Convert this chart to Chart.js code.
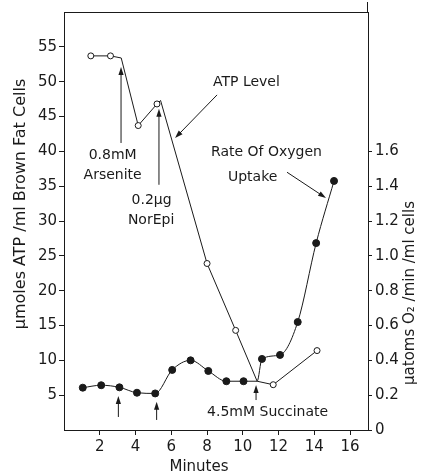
<!DOCTYPE html>
<html>
<head>
<meta charset="utf-8">
<script src="https://cdn.jsdelivr.net/npm/chart.js@4.4.1/dist/chart.umd.min.js"></script>
<style>
html, body { margin: 0; padding: 0; background: #fff; }
canvas { display: block; }
</style>
</head>
<body>
<canvas id="chart" width="421" height="475"></canvas>
<script>
// ATP level (open circles, left axis, umoles/ml)
const minutesATP = [1.5, 2.6, 3.2, 4.15, 5.2, 5.4, 8.0, 9.6, 10.8, 11.7, 14.15];
const atpLevel   = [53.7, 53.7, 53.4, 43.7, 46.8, 47.3, 23.9, 14.3, 7.0, 6.5, 11.4];
const atpMarked  = [true, true, false, true, true, false, true, true, false, true, true];

// oxygen uptake (filled circles, right axis, uatoms O2/min/ml)
const minutesO2 = [1.05, 2.08, 3.1, 4.08, 5.1, 6.05, 7.08, 8.07, 9.08, 10.04, 10.8, 11.07, 12.08, 13.07, 14.1, 15.1];
const o2Uptake  = [0.243, 0.257, 0.245, 0.214, 0.21, 0.345, 0.40, 0.339, 0.28, 0.28, 0.28, 0.408, 0.431, 0.62, 1.073, 1.43];
const o2Marked  = [true, true, true, true, true, true, true, true, true, true, false, true, true, true, true, true];

const xTicks = [2, 4, 6, 8, 10, 12, 14, 16];
const leftTicks = [5, 10, 15, 20, 25, 30, 35, 40, 45, 50, 55];
const rightTicks = [0, 0.2, 0.4, 0.6, 0.8, 1.0, 1.2, 1.4, 1.6];

// annotations, in minutes / left-axis units
const noteTexts = [
  { text: '0.8mM', x: 2.72, y: 39.4, align: 'center' },
  { text: 'Arsenite', x: 2.72, y: 36.5, align: 'center' },
  { text: '0.2\u03bcg', x: 4.9, y: 33.0, align: 'center' },
  { text: 'NorEpi', x: 4.87, y: 30.1, align: 'center' },
  { text: 'ATP Level', x: 8.33, y: 49.9, align: 'left' },
  { text: 'Rate Of Oxygen', x: 8.22, y: 39.8, align: 'left' },
  { text: 'Uptake', x: 9.17, y: 36.3, align: 'left' },
  { text: '4.5mM Succinate', x: 8.0, y: 2.6, align: 'left' }
];
const noteArrows = [
  { from: [3.19, 41.2], to: [3.19, 52.1] },
  { from: [5.31, 35.2], to: [5.31, 46.1] },
  { from: [8.56, 48.1], to: [6.21, 41.9] },
  { from: [12.47, 37.0], to: [14.65, 33.3] },
  { from: [10.74, 4.3], to: [10.74, 6.46] },
  { from: [3.04, 1.87], to: [3.04, 4.88] },
  { from: [5.18, 1.44], to: [5.18, 4.06] }
];

const ink = '#1a1a1a';
const fontFam = '"DejaVu Sans", sans-serif';

function drawArrow(ctx, x1, y1, x2, y2) {
  const ang = Math.atan2(y2 - y1, x2 - x1);
  const len = 8, half = 2.6;
  ctx.beginPath();
  ctx.moveTo(x1, y1);
  ctx.lineTo(x2 - Math.cos(ang) * len * 0.7, y2 - Math.sin(ang) * len * 0.7);
  ctx.stroke();
  ctx.beginPath();
  ctx.moveTo(x2, y2);
  ctx.lineTo(x2 - len * Math.cos(ang) + half * Math.sin(ang), y2 - len * Math.sin(ang) - half * Math.cos(ang));
  ctx.lineTo(x2 - len * Math.cos(ang) - half * Math.sin(ang), y2 - len * Math.sin(ang) + half * Math.cos(ang));
  ctx.closePath();
  ctx.fill();
}

const notesPlugin = {
  id: 'notes',
  afterDraw(chart) {
    const ctx = chart.ctx;
    const sx = chart.scales.x, sy = chart.scales.y;
    const a = chart.chartArea;
    ctx.save();
    ctx.strokeStyle = ink;
    ctx.fillStyle = ink;
    ctx.lineWidth = 1;

    // top of frame, right axis runs up past it
    ctx.beginPath();
    ctx.moveTo(a.left, a.top + 0.5);
    ctx.lineTo(a.right, a.top + 0.5);
    ctx.moveTo(a.right - 0.5, a.top);
    ctx.lineTo(a.right - 0.5, 2);
    ctx.stroke();

    noteArrows.forEach(n => {
      drawArrow(ctx, sx.getPixelForValue(n.from[0]), sy.getPixelForValue(n.from[1]),
                     sx.getPixelForValue(n.to[0]), sy.getPixelForValue(n.to[1]));
    });

    ctx.font = '14px ' + fontFam;
    ctx.textBaseline = 'middle';
    noteTexts.forEach(n => {
      ctx.textAlign = n.align;
      ctx.fillText(n.text, sx.getPixelForValue(n.x), sy.getPixelForValue(n.y));
    });

    // axis titles
    ctx.font = '16px ' + fontFam;
    ctx.textAlign = 'center';
    ctx.save();
    ctx.translate(21, 204);
    ctx.rotate(-Math.PI / 2);
    ctx.fillText('\u03bcmoles ATP /ml Brown Fat Cells', 0, 0);
    ctx.restore();

    ctx.font = '15px ' + fontFam;
    ctx.save();
    ctx.translate(410, 293);
    ctx.rotate(-Math.PI / 2);
    ctx.fillText('\u03bcatoms O\u2082 /min /ml cells', 0, 0);
    ctx.restore();

    ctx.fillText('Minutes', 199, 467);
    ctx.restore();
  }
};

const tickFont = { family: fontFam, size: 15 };
const axisGrid = { display: true, drawOnChartArea: false, drawTicks: true, tickLength: 5, color: ink };
const axisBorder = { display: true, color: ink, width: 1 };

new Chart(document.getElementById('chart'), {
  type: 'line',
  data: {
    datasets: [
      {
        label: 'ATP Level',
        data: minutesATP.map((m, i) => ({ x: m, y: atpLevel[i] })),
        yAxisID: 'y',
        borderColor: ink,
        borderWidth: 1,
        tension: 0,
        pointRadius: ctx => atpMarked[ctx.dataIndex] ? 3 : 0,
        pointBackgroundColor: '#fff',
        pointBorderColor: ink,
        pointBorderWidth: 1
      },
      {
        label: 'Rate Of Oxygen Uptake',
        data: minutesO2.map((m, i) => ({ x: m, y: o2Uptake[i] })),
        yAxisID: 'y2',
        borderColor: ink,
        borderWidth: 1,
        cubicInterpolationMode: 'monotone',
        pointRadius: ctx => o2Marked[ctx.dataIndex] ? 3.5 : 0,
        pointBackgroundColor: ink,
        pointBorderColor: ink,
        pointBorderWidth: 1
      }
    ]
  },
  options: {
    responsive: false,
    animation: false,
    devicePixelRatio: 1,
    layout: { padding: { top: 12, left: 0, right: 0, bottom: 0 } },
    plugins: { legend: { display: false }, tooltip: { enabled: false } },
    scales: {
      x: {
        type: 'linear',
        min: 0,
        max: 17,
        afterBuildTicks: s => { s.ticks = xTicks.map(v => ({ value: v })); },
        afterFit: s => { s.height = 45; },
        ticks: { font: tickFont, color: ink, padding: 3 },
        grid: axisGrid,
        border: axisBorder
      },
      y: {
        position: 'left',
        min: 0,
        max: 60,
        afterBuildTicks: s => { s.ticks = leftTicks.map(v => ({ value: v })); },
        afterFit: s => { s.width = 64; },
        ticks: { font: tickFont, color: ink, padding: 2 },
        grid: axisGrid,
        border: axisBorder
      },
      y2: {
        position: 'right',
        min: 0,
        max: 2.4,
        afterBuildTicks: s => { s.ticks = rightTicks.map(v => ({ value: v })); },
        afterFit: s => { s.width = 53; },
        ticks: {
          font: tickFont,
          color: ink,
          padding: 3,
          callback: v => v === 0 ? '0' : v.toFixed(1)
        },
        grid: Object.assign({}, axisGrid, { tickLength: 4 }),
        border: axisBorder
      }
    }
  },
  plugins: [notesPlugin]
});
</script>
</body>
</html>
